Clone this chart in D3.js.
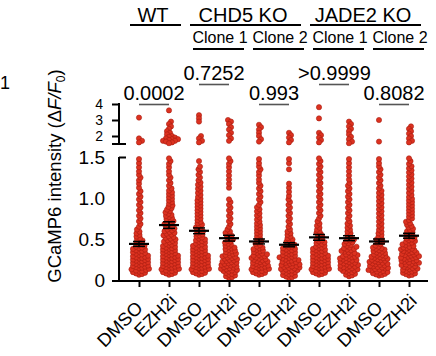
<!DOCTYPE html>
<html><head><meta charset="utf-8">
<script src="https://cdn.jsdelivr.net/npm/d3@7"></script>
<style>
body{margin:0;background:#fff}
svg{display:block}
text{font-family:"Liberation Sans",Arial,Helvetica,sans-serif;fill:#000}
</style>
</head><body>
<svg id="c" width="436" height="356"></svg>
<script>
// ---- data ----
const categories = ["DMSO","EZH2i","DMSO","EZH2i","DMSO","EZH2i","DMSO","EZH2i","DMSO","EZH2i"];
const binWidth = 0.1; // lower segment bins: [0,0.1), [0.1,0.2) ... [1.4,1.5)
// counts of cells per 0.1 bin (0 - 1.5)
const wtDmso       = [5,15,15,12,8,5,3,3,3,3,3,2,3,2,2];
const wtEzh2i      = [5,15,15,13,11,10,9,8,6,5,5,3,3,2,3];
const chd5c1Dmso   = [5,15,15,13,10,8,6,5,5,5,4,4,3,3,1];
const chd5c1Ezh2i  = [8,15,14,11,8,6,3,3,3,3,0,2,2,2,3];
const chd5c2Dmso   = [5,15,14,11,6,5,5,4,4,3,3,3,2,3,2];
const chd5c2Ezh2i  = [9,16,15,12,8,5,3,3,3,3,2,2,0,1,2];
const jade2c1Dmso  = [5,15,15,12,9,6,4,3,3,3,3,3,3,3,3];
const jade2c1Ezh2i = [6,15,15,12,9,5,4,3,3,3,3,3,2,2,2];
const jade2c2Dmso  = [7,16,16,12,7,5,4,4,4,4,4,3,3,3,2];
const jade2c2Ezh2i = [6,14,16,14,10,8,6,5,5,5,4,4,4,4,3];
const minValues = [0.06,0.06,0.06,0.02,0.06,0.02,0.06,0.04,0.05,0.05];
// individual values above the axis break (> 1.5)
const wtDmsoHigh       = [3.15,1.85,1.7,1.6];
const wtEzh2iHigh      = [3.6,2.9,2.75,2.6,2.45,2.3,2.2,2.1,2.0,1.95,1.9,1.85,1.8,1.8,1.75,1.7,1.7,1.65,1.6,1.55];
const chd5c1DmsoHigh   = [3.3,3.1,2.9,2.0,1.85,1.7,1.6];
const chd5c1Ezh2iHigh  = [3.0,2.9,2.75,2.55,2.4,2.2,2.05,1.85,1.7];
const chd5c2DmsoHigh   = [2.7,2.55,2.4,2.2,2.0,1.8,1.65];
const chd5c2Ezh2iHigh  = [2.2,2.05,1.9,1.75,1.6];
const jade2c1DmsoHigh  = [3.8,3.1,2.2,2.05,1.9,1.75,1.6];
const jade2c1Ezh2iHigh = [2.9,2.75,2.6,2.45,2.3,2.1,1.95,1.8,1.65,1.55];
const jade2c2DmsoHigh  = [3.0,1.65];
const jade2c2Ezh2iHigh = [2.6,2.45,2.3,2.15,2.0,1.85,1.7,1.6];
const means = [0.44,0.67,0.60,0.51,0.47,0.43,0.52,0.51,0.47,0.54];
const sems  = [0.03,0.04,0.035,0.035,0.03,0.025,0.035,0.03,0.03,0.03];
const lowTicks = [0,0.5,1.0,1.5];
const highTicks = [2,3,4];
const breakValue = 1.5;
const genotypes = ["WT","CHD5 KO","JADE2 KO"];
const genotypeSpan = [[0,1],[2,5],[6,9]];
const clones = ["Clone 1","Clone 2","Clone 1","Clone 2"];
const cloneSpan = [[2,3],[4,5],[6,7],[8,9]];
const pValues = ["0.0002","0.7252","0.993",">0.9999","0.8082"];
const pPairs = [[0,1],[2,3],[4,5],[6,7],[8,9]];
const pRow = [1,0,1,0,1];

const lowSets = [wtDmso,wtEzh2i,chd5c1Dmso,chd5c1Ezh2i,chd5c2Dmso,chd5c2Ezh2i,jade2c1Dmso,jade2c1Ezh2i,jade2c2Dmso,jade2c2Ezh2i];
const highSets = [wtDmsoHigh,wtEzh2iHigh,chd5c1DmsoHigh,chd5c1Ezh2iHigh,chd5c2DmsoHigh,chd5c2Ezh2iHigh,jade2c1DmsoHigh,jade2c1Ezh2iHigh,jade2c2DmsoHigh,jade2c2Ezh2iHigh];

// ---- layout ----
const svg = d3.select("#c");
const axisX = 119, xAxisY = 281;
const x = d3.scalePoint().domain(d3.range(categories.length)).range([139,409]);
const yLow = d3.scaleLinear().domain([0,breakValue]).range([280,157]);
const yHigh = d3.scaleLinear().domain([breakValue,4]).range([144,104]);
const yv = v => v > breakValue ? yHigh(v) : yLow(v);

function expand(counts, minV){
  const vals = [];
  counts.forEach((n,b)=>{
    const lo = b===0 ? minV : b*binWidth, hi = (b+1)*binWidth;
    for(let k=0;k<n;k++) vals.push(lo + (k+0.5)/n*(hi-lo));
  });
  return vals;
}
function swarm(ys, D){
  const order = ys.map((y,i)=>i).sort((a,b)=>ys[b]-ys[a]);
  const placed = [], out = new Array(ys.length);
  for(const i of order){
    const y = ys[i];
    const near = placed.filter(p=>Math.abs(p.y-y)<D);
    let dx = 0;
    for(let k=0;k<300;k++){
      const c = (k%2?1:-1)*Math.ceil(k/2)*0.5;
      if(near.every(p=>(p.x-c)**2+(p.y-y)**2>=D*D)){dx=c;break;}
    }
    out[i]=dx; placed.push({x:dx,y});
  }
  return out;
}

const pts = [];
lowSets.forEach((counts,g)=>{
  const vals = expand(counts,minValues[g]).concat(highSets[g]);
  const ys = vals.map(yv);
  const dxs = swarm(ys,3.0);
  vals.forEach((v,i)=>pts.push({g,v,px:x(g)+dxs[i],py:ys[i]}));
});

svg.append("g").selectAll("circle").data(pts).join("circle")
  .attr("cx",d=>d.px).attr("cy",d=>d.py).attr("r",2.6)
  .attr("fill","#dc3220").attr("stroke","#a81c10").attr("stroke-width",0.6);

// mean +- SEM
const ms = svg.append("g").attr("stroke","#000");
means.forEach((m,g)=>{
  const cx = x(g);
  ms.append("line").attr("x1",cx-10).attr("x2",cx+10).attr("y1",yLow(m)).attr("y2",yLow(m)).attr("stroke-width",2.2);
  ms.append("line").attr("x1",cx).attr("x2",cx).attr("y1",yLow(m-sems[g])).attr("y2",yLow(m+sems[g])).attr("stroke-width",1.5);
  [m-sems[g],m+sems[g]].forEach(e=>ms.append("line").attr("x1",cx-6).attr("x2",cx+6).attr("y1",yLow(e)).attr("y2",yLow(e)).attr("stroke-width",1.5));
});

// y axes
const fmt = d=> d===0 ? "0" : d3.format(".1f")(d);
const gl = svg.append("g").attr("transform",`translate(${axisX},0)`)
  .call(d3.axisLeft(yLow).tickValues(lowTicks).tickSize(7).tickSizeOuter(0).tickPadding(7).tickFormat(fmt));
gl.select(".domain").remove();
gl.selectAll(".tick line").attr("stroke","#000").attr("stroke-width",2).attr("x2",d=>d===breakValue?7:0);
gl.selectAll(".tick text").attr("font-size",19).attr("font-family",null);
const gh = svg.append("g").attr("transform",`translate(${axisX},0)`)
  .call(d3.axisLeft(yHigh).tickValues(highTicks).tickSize(7).tickSizeOuter(0).tickPadding(9).tickFormat(d3.format("d")));
gh.select(".domain").remove();
gh.selectAll(".tick line").attr("stroke","#000").attr("stroke-width",2);
gh.selectAll(".tick text").attr("font-size",14).attr("font-family",null);
const ax = svg.append("g").attr("stroke","#000").attr("stroke-width",2);
ax.append("line").attr("x1",axisX).attr("x2",axisX).attr("y1",yLow(breakValue)).attr("y2",xAxisY+1);
ax.append("line").attr("x1",axisX).attr("x2",axisX).attr("y1",yHigh(4)-1).attr("y2",yHigh(breakValue));
ax.append("line").attr("x1",axisX-7).attr("x2",axisX+7).attr("y1",yHigh(breakValue)).attr("y2",yHigh(breakValue));

// x axis
const gx = svg.append("g").attr("transform",`translate(0,${xAxisY})`)
  .call(d3.axisBottom(x).tickSize(6).tickSizeOuter(0).tickFormat(""));
gx.select(".domain").remove();
gx.selectAll(".tick line").attr("stroke","#000").attr("stroke-width",2);
ax.append("line").attr("x1",axisX-7).attr("x2",428).attr("y1",xAxisY).attr("y2",xAxisY);
svg.append("g").selectAll("text").data(categories).join("text")
  .attr("text-anchor","end").attr("font-size",18.5)
  .attr("transform",(d,i)=> d==="DMSO" ? `translate(${x(i)+5},309) rotate(-45)` : `translate(${x(i)+9},302) rotate(-45)`)
  .text(d=>d);

// y title
const yt = svg.append("text").attr("text-anchor","middle").attr("font-size",18.5)
  .attr("transform","translate(61,176) rotate(-90)");
yt.append("tspan").text("GCaMP6 intensity (\u0394");
yt.append("tspan").attr("font-style","italic").text("F/F");
yt.append("tspan").attr("font-size",12).attr("dy",4).text("0");
yt.append("tspan").attr("dy",-4).text(")");

// panel fragment label
svg.append("text").attr("x",0).attr("y",89).attr("font-size",18).text("1");

// genotype headers
genotypes.forEach((t,i)=>{
  const [a,b] = genotypeSpan[i];
  svg.append("text").attr("x",(x(a)+x(b))/2 - 1).attr("y",22).attr("text-anchor","middle").attr("font-size",20).text(t);
  svg.append("line").attr("x1",x(a)-9).attr("x2",x(b)+12).attr("y1",25).attr("y2",25).attr("stroke","#000").attr("stroke-width",2);
});
clones.forEach((t,i)=>{
  const [a,b] = cloneSpan[i];
  svg.append("text").attr("x",(x(a)+x(b))/2 + 6).attr("y",43).attr("text-anchor","middle").attr("font-size",16).text(t);
  svg.append("line").attr("x1",x(a)-6).attr("x2",x(b)+15).attr("y1",49).attr("y2",49).attr("stroke","#000").attr("stroke-width",2);
});
// p-values
pValues.forEach((t,i)=>{
  const [a,b] = pPairs[i];
  const base = pRow[i] ? 99.5 : 79.5;
  const cx = (x(a)+x(b))/2;
  svg.append("text").attr("x",cx - (t[0]===">" ? 36 : 0)).attr("y",base).attr("text-anchor",t[0]===">" ? "start":"middle").attr("font-size",20).text(t);
  svg.append("line").attr("x1",x(a)).attr("x2",x(b)).attr("y1",base+5).attr("y2",base+5).attr("stroke","#555").attr("stroke-width",1.6);
});
</script>
</body></html>
